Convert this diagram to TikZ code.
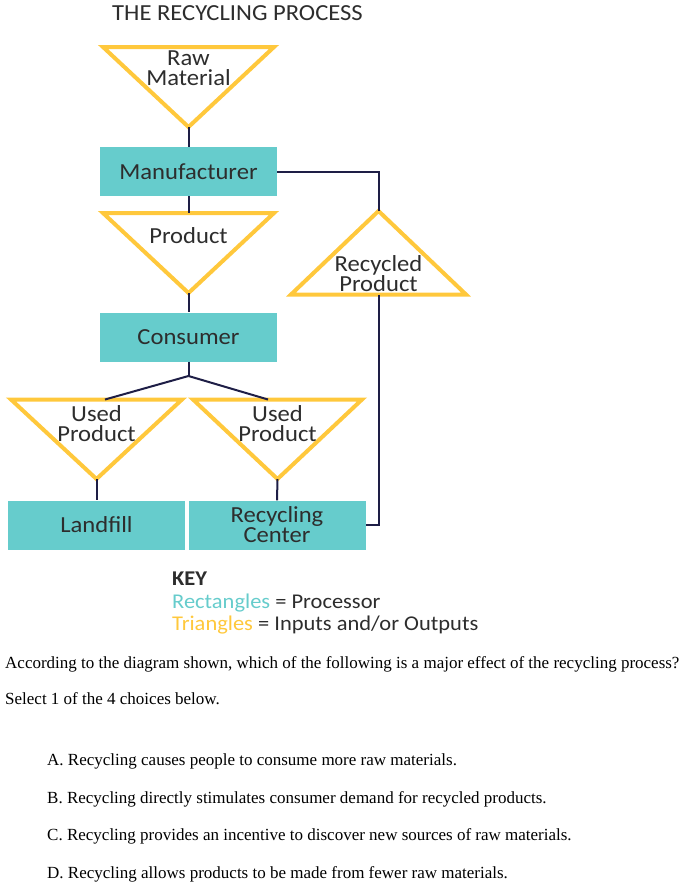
\documentclass[tikz,border=0pt]{standalone}
\usepackage{fontspec}
\setmainfont{Liberation Serif}
\newfontfamily\calibri[FakeStretch=1.07]{Carlito}
\usetikzlibrary{calc}
\definecolor{boxteal}{RGB}{102,204,204}
\definecolor{triyellow}{RGB}{255,200,60}
\definecolor{linknavy}{RGB}{30,30,70}
\definecolor{labelgray}{RGB}{45,45,45}
\tikzset{
  proc/.style = {fill = boxteal, minimum width = 177pt, minimum height = 49pt, inner sep = 0pt,
    text = labelgray, align = center, font = \calibri\fontsize{23}{20}\selectfont},
  tri/.style = {draw = triyellow, line width = 4pt, line join = miter},
  trilabel/.style = {text = labelgray, align = center, inner sep = 0pt, font = \calibri\fontsize{23}{20}\selectfont},
  link/.style = {draw = linknavy, line width = 2pt},
  keyline/.style = {anchor = base west, inner sep = 0pt, text = labelgray, font = \calibri\fontsize{21}{21}\selectfont},
  question/.style = {anchor = base west, inner sep = 0pt, font = \fontsize{17}{17}\selectfont}
}

\begin{document}
\begin{tikzpicture}[x = 1pt, y = -1pt]
\useasboundingbox (0,0) rectangle (685,889);
\node[anchor = base, text = labelgray, inner sep = 0pt, font = \calibri\fontsize{23}{23}\selectfont] (title) at (237.5,20) {THE RECYCLING PROCESS};
% processors
\node[proc] (manu) at (188.5,171.5) {Manufacturer};
\node[proc] (cons) at (188.5,337) {Consumer};
\node[proc] (land) at (96.5,525) {Landfill};
\node[proc] (center) at (277,525) {Recycling\\Center};
% inputs and outputs
\coordinate (rawtip) at (188.5,127);
\coordinate (prodtop) at (188.5,213);
\coordinate (prodtip) at (188.5,293);
\coordinate (recyctip) at (378.5,211);
\coordinate (recycbase) at (378.5,294.5);
\coordinate (split) at (188.5,376);
\coordinate (usedltop) at (105,399.5);
\coordinate (usedrtop) at (268,399.5);
\coordinate (usedltip) at (96.5,479);
\coordinate (usedrtip) at (277.5,479);
\draw[tri] (103,47) -- (274,47) -- (rawtip) -- cycle;
\draw[tri] (103,213) -- (274,213) -- (prodtip) -- cycle;
\draw[tri] (recyctip) -- (466,294.5) -- (291,294.5) -- cycle;
\draw[tri] (11,399.5) -- (182,399.5) -- (usedltip) -- cycle;
\draw[tri] (193,399.5) -- (362,399.5) -- (usedrtip) -- cycle;
\node[trilabel] (raw) at (188.5,68) {Raw\\Material};
\node[trilabel] (prod) at (188.5,236) {Product};
\node[trilabel] (recyc) at (378.5,274) {Recycled\\Product};
\node[trilabel] (usedl) at (96.5,424) {Used\\Product};
\node[trilabel] (usedr) at (277.5,424) {Used\\Product};
% connectors
\draw[link] (rawtip) -- (manu.north);
\draw[link] (manu.south) -- (prodtop);
\draw[link] (prodtip) -- (cons.north);
\draw[link] (manu.east) -| (recyctip);
\draw[link] (recycbase) |- (center.east);
\draw[link] (cons.south) -- (split);
\draw[link] (split) -- (usedltop);
\draw[link] (split) -- (usedrtop);
\draw[link] (usedltip) -- (land.north);
\draw[link] (usedrtip) -- (center.north);
% key
\node[keyline, font = \calibri\bfseries\fontsize{21}{21}\selectfont] (key) at (172,585) {KEY};
\node[keyline] (keyrect) at (172,608) {\textcolor{boxteal}{Rectangles} = Processor};
\node[keyline] (keytri) at (172,630) {\textcolor{triyellow}{Triangles} = Inputs and/or Outputs};
% question
\node[question] (ask) at (5,668) {According to the diagram shown, which of the following is a major effect of the recycling process?};
\node[question] (select) at (5,704) {Select 1 of the 4 choices below.};
\node[question] (choicea) at (47,765) {A. Recycling causes people to consume more raw materials.};
\node[question] (choiceb) at (47,803) {B. Recycling directly stimulates consumer demand for recycled products.};
\node[question] (choicec) at (47,840) {C. Recycling provides an incentive to discover new sources of raw materials.};
\node[question] (choiced) at (47,878) {D. Recycling allows products to be made from fewer raw materials.};
\end{tikzpicture}
\end{document}
